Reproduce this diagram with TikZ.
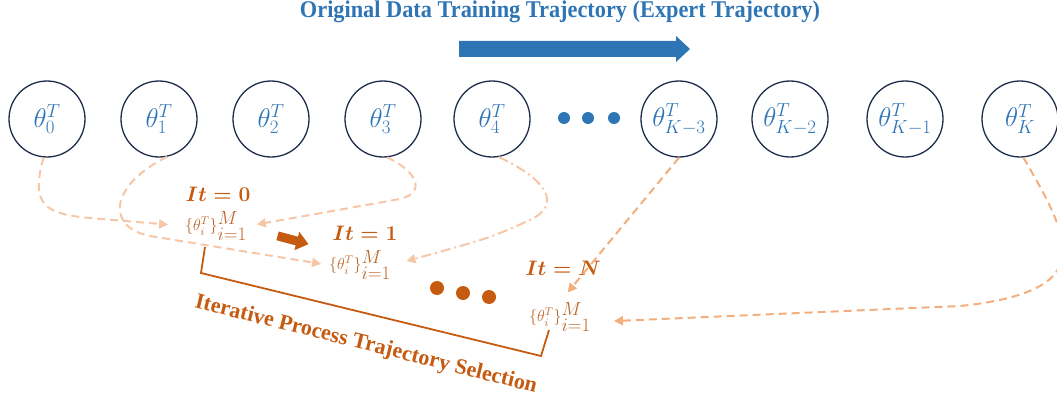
\RequirePackage{fix-cm}
\documentclass[tikz,border=0pt]{standalone}
\usepackage{amsmath}
\usepackage{fontspec}
\newfontfamily\timesfont{Liberation Serif}
\usetikzlibrary{arrows.meta}

\definecolor{tblue}{HTML}{2E75B6}
\definecolor{navy}{HTML}{1F2D4D}
\definecolor{rust}{HTML}{C55A11}
\definecolor{setc}{HTML}{BE672A}
\definecolor{peachL}{HTML}{F6C6A6}
\definecolor{peachD}{HTML}{F2AE7C}

\tikzset{
  param/.style={circle, draw=navy, line width=1.3pt, minimum size=76pt, inner sep=0pt,
                text=tblue, font=\fontsize{27}{29}\selectfont},
  itlabel/.style={text=rust, inner sep=0pt, font=\fontsize{21}{24}\selectfont\boldmath},
  setlabel/.style={text=setc, inner sep=1pt, font=\fontsize{16}{18}\selectfont},
  link/.style={line width=2pt, dash pattern=on 8pt off 5pt,
               -{Triangle[length=9pt,width=9pt]}},
  linkdd/.style={line width=2pt, dash pattern=on 10pt off 4pt on 2pt off 4pt,
               -{Triangle[length=9pt,width=9pt]}},
}

\newcommand{\thetaset}{$\{\theta_i^T\}^{\mbox{\fontsize{19}{20}\selectfont$M$}}_{\mbox{\fontsize{19}{20}\selectfont$i{=}1$}}$}

\begin{document}
\begin{tikzpicture}[x=1pt, y=-1pt]
\useasboundingbox (0,0) rectangle (1057,404);

% heading and direction arrow
\node[text=tblue, font=\timesfont\bfseries\fontsize{24}{26}\selectfont] (title) at (560,12)
  {\scalebox{0.93}[1]{Original Data Training Trajectory (Expert Trajectory)}};
\fill[tblue] (459,41) -- (676,41) -- (676,36) -- (690,49) -- (676,62) -- (676,57) -- (459,57) -- cycle;

% expert checkpoints
\node[param] (c0)  at (47,119)   {$\theta^T_0$};
\node[param] (c1)  at (159,119)  {$\theta^T_1$};
\node[param] (c2)  at (271,119)  {$\theta^T_2$};
\node[param] (c3)  at (383,119)  {$\theta^T_3$};
\node[param] (c4)  at (492,119)  {$\theta^T_4$};
\node[param] (cK3) at (679,119)  {$\theta^T_{K-3}$};
\node[param] (cK2) at (790,119)  {$\theta^T_{K-2}$};
\node[param] (cK1) at (905,119)  {$\theta^T_{K-1}$};
\node[param] (cK)  at (1020,119) {$\theta^T_{K}$};
\foreach \x in {564,588,614} \fill[tblue] (\x,118) circle (6pt);

% iterations
\node[itlabel] (it0) at (218,194) {$It=0$};
\node[setlabel] (s0) at (216,226) {\thetaset};
\node[itlabel] (it1) at (365,233) {$It=1$};
\node[setlabel] (s1) at (360,265) {\thetaset};
\node[itlabel] (itN) at (563,268) {$It=N$};
\node[setlabel] (sN) at (560,317) {\thetaset};
\foreach \x/\y in {437/288,463/293,489/297} \fill[rust] (\x,\y) circle (7pt);

% step arrow between iterations
\begin{scope}[shift={(293,240)}, rotate=-15]
  \fill[rust] (-16,-4.5) -- (4,-4.5) -- (4,-9.5) -- (16,0) -- (4,9.5) -- (4,4.5) -- (-16,4.5) -- cycle;
\end{scope}

% bracket and caption
\draw[rust, line width=1.8pt] (205,247) -- (201,273) -- (541,356) -- (549,330);
\node[rotate=-14, text=rust, font=\timesfont\bfseries\fontsize{22}{24}\selectfont] (sel) at (366,345)
  {Iterative Process Trajectory Selection};

% sampled checkpoints feeding each iteration
\draw[link, peachL, shorten >=16pt] (c0.265) .. controls (30,205) and (45,214) .. (90,218) -- (s0.west);
\draw[link, peachL, shorten >=7pt] (c1.-78) .. controls (110,185) and (105,227) .. (150,236) -- (s1.west);
\draw[link, peachL, shorten >=9pt] (c3.-84) .. controls (415,170) and (428,192) .. (400,199) -- (s0.east);
\draw[linkdd, peachL, shorten >=15pt] (c4.-80) .. controls (548,180) and (562,205) .. (530,220) .. controls (490,238) .. (s1.east);
\draw[link, peachD, shorten >=12pt] (cK3.south) -- (sN.north);
\draw[link, peachD, shorten >=22pt] (cK.-85) .. controls (1045,195) and (1072,240) .. (1060,265)
  .. controls (1050,292) and (1000,302) .. (960,306) -- ([yshift=-5pt]sN.east);
\end{tikzpicture}
\end{document}
